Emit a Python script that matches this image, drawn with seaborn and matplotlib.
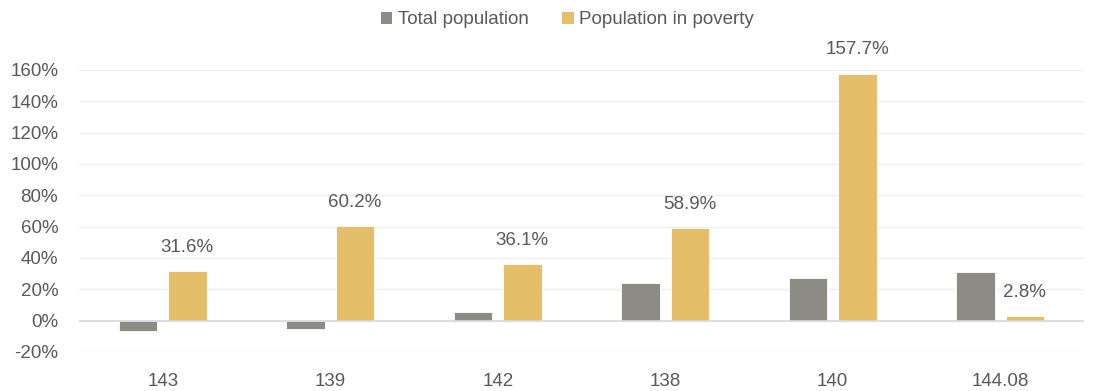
import matplotlib
matplotlib.use("Agg")
import matplotlib.pyplot as plt
import seaborn as sns
import pandas as pd
import numpy as np
from matplotlib.ticker import FuncFormatter
from matplotlib.patches import Patch

categories = ["143", "139", "142", "138", "140", "144.08"]
total_population = [-0.068, -0.051, 0.055, 0.238, 0.274, 0.31]
poverty_population = [0.316, 0.602, 0.361, 0.589, 1.577, 0.028]
series_names = ["Total population", "Population in poverty"]
colors = ["#8C8B84", "#E4BE68"]
text_color = "#595959"

df = pd.DataFrame({
    "category": categories * 2,
    "series": [series_names[0]] * len(categories) + [series_names[1]] * len(categories),
    "value": total_population + poverty_population,
})

sns.set_theme(style="white")
plt.rcParams["font.family"] = ["Liberation Sans", "DejaVu Sans"]

fs = 13.5
fig = plt.figure(figsize=(11.02, 3.91), dpi=100)
ax = fig.add_axes([79 / 1102, (391 - 352) / 391, 1005 / 1102, 282 / 391])

sns.barplot(data=df, x="category", y="value", hue="series", order=categories,
            hue_order=series_names, palette=colors, width=0.586, gap=0.215,
            saturation=1, edgecolor="white", linewidth=0.6, ax=ax, legend=False)

ax.set_ylim(-0.2, 1.6)
ax.set_yticks(np.arange(-0.2, 1.61, 0.2))
ax.yaxis.set_major_formatter(FuncFormatter(lambda v, p: f"{v*100:.0f}%".replace("−", "-")))
ax.grid(axis="y", color="#EEEEEE", linewidth=1.0)
ax.set_axisbelow(True)
ax.axhline(0, color="#D9D9D9", linewidth=1.2, zorder=1)
for s in ax.spines.values():
    s.set_visible(False)
ax.set_xlabel("")
ax.set_ylabel("")
ax.tick_params(axis="both", length=0, labelsize=fs, colors=text_color)
ax.tick_params(axis="x", pad=15)
ax.tick_params(axis="y", pad=15)

# labels on poverty bars
poverty_bars = ax.containers[1]
for bar, v in zip(poverty_bars, poverty_population):
    x = bar.get_x() + bar.get_width() / 2
    ax.annotate(f"{v*100:.1f}%", xy=(x, bar.get_height()), xytext=(0, 17),
                textcoords="offset points", ha="center", va="center",
                fontsize=fs, color=text_color, annotation_clip=False)

handles = [Patch(facecolor=c, edgecolor="none") for c in colors]
fig.legend(handles, series_names, loc="center", bbox_to_anchor=(0.515, 1 - 20 / 391),
           ncol=2, frameon=False, fontsize=fs, handlelength=0.6, handleheight=0.6,
           handletextpad=0.3, columnspacing=1.8, labelcolor=text_color)

fig.savefig("out.png", dpi=100)
